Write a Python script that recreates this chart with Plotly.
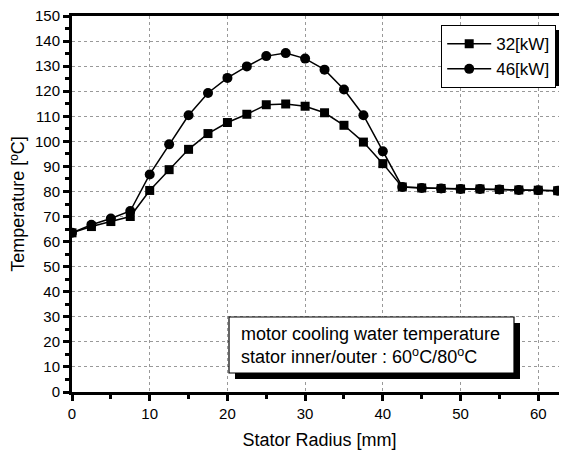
import plotly.graph_objects as go

radius = [0, 2.5, 5, 7.5, 10, 12.5, 15, 17.5, 20, 22.5, 25, 27.5, 30, 32.5, 35, 37.5, 40,
          42.5, 45, 47.5, 50, 52.5, 55, 57.5, 60, 62.5]
temp_32kw = [63.5, 66, 68, 70, 80.4, 88.7, 96.8, 103.1, 107.5, 110.8, 114.6, 114.9, 114.0, 111.4,
             106.4, 99.7, 91.1, 81.8, 81.4, 81.2, 81.0, 81.0, 80.8, 80.6, 80.5, 80.3]
temp_46kw = [63.5, 66.7, 69.2, 72.2, 86.8, 98.8, 110.4, 119.3, 125.3, 129.9, 134.0, 135.2, 133.0, 128.6,
             120.7, 110.4, 96.0, 81.8, 81.4, 81.2, 81.0, 81.0, 80.8, 80.6, 80.5, 80.3]
series_names = ["32[kW]", "46[kW]"]
x_ticks = [0, 10, 20, 30, 40, 50, 60]
y_ticks = list(range(0, 151, 10))

# the page body has an 8px margin, so the figure is drawn at (8, 8) in the window
OFF = 8
W, H = 567 - OFF, 450 - OFF
# plot area in window pixels: x 72..567, y 16..392
ml, mr, mt, mb = 72 - OFF, 0, 16 - OFF, 450 - 392
pw, ph = W - ml - mr, H - mt - mb
FONT = "Liberation Sans, Arial"

fig = go.Figure()
fig.add_trace(go.Scatter(x=radius, y=temp_32kw, name=series_names[0], mode="lines+markers",
                         line=dict(color="black", width=1.5),
                         marker=dict(symbol="square", size=9, color="black")))
fig.add_trace(go.Scatter(x=radius, y=temp_46kw, name=series_names[1], mode="lines+markers",
                         line=dict(color="black", width=1.5),
                         marker=dict(symbol="circle", size=10, color="black")))

def px_x(p):  # window pixel -> paper
    return (p - OFF - ml) / pw

def px_y(p):
    return (H - mb - (p - OFF)) / ph

# legend box (window pixels) and its shadow
lx0, lx1, ly0, ly1 = 441, 558, 25, 81
sh = 5
fig.add_shape(type="rect", xref="paper", yref="paper",
              x0=px_x(lx0 + sh), x1=px_x(lx1 + sh), y0=px_y(ly1 + sh), y1=px_y(ly0 + sh),
              fillcolor="black", line=dict(width=0), layer="above")
# annotation box with shadow
ax0, ax1, ay0, ay1 = 229, 514, 317, 373
sh2 = 6
fig.add_shape(type="rect", xref="paper", yref="paper",
              x0=px_x(ax0 + sh2), x1=px_x(ax1 + sh2), y0=px_y(ay1 + sh2), y1=px_y(ay0 + sh2),
              fillcolor="black", line=dict(width=0), layer="above")
fig.add_shape(type="rect", xref="paper", yref="paper",
              x0=px_x(ax0), x1=px_x(ax1), y0=px_y(ay1), y1=px_y(ay0),
              fillcolor="white", line=dict(color="black", width=1.2), layer="above")
fig.add_annotation(xref="paper", yref="paper", x=px_x(ax0 + 10), y=px_y((ay0 + ay1) / 2),
                   xanchor="left", yanchor="middle", align="left", showarrow=False,
                   text="motor cooling water temperature<br>stator inner/outer : 60<sup>o</sup>C/80<sup>o</sup>C",
                   font=dict(family=FONT, size=18, color="black"))

fig.update_layout(
    width=W, height=H, margin=dict(l=ml, r=mr, t=mt, b=mb, autoexpand=False),
    paper_bgcolor="white", plot_bgcolor="white",
    font=dict(family=FONT, size=15, color="black"),
    showlegend=True,
    legend=dict(x=px_x(lx0), y=px_y(ly0), xanchor="left", yanchor="top",
                bgcolor="white", bordercolor="black", borderwidth=1.2,
                font=dict(size=17), tracegroupgap=0, itemwidth=44),
)
fig.update_xaxes(range=[0, 63.7], tickvals=x_ticks, showline=True, linecolor="black", linewidth=3,
                 mirror=True, ticks="outside", ticklen=6, tickwidth=2.5, tickcolor="black",
                 minor=dict(dtick=5, ticks="outside", ticklen=4, tickwidth=2.5, tickcolor="black", showgrid=False),
                 showgrid=True, gridcolor="#999999", griddash="dot", gridwidth=1, zeroline=False,
                 automargin=False, ticklabeloverflow="allow",
                 title=dict(text="Stator Radius [mm]", font=dict(size=18), standoff=14))
fig.update_yaxes(range=[0, 150], tickvals=y_ticks, showline=True, linecolor="black", linewidth=3,
                 ticks="outside", ticklen=6, tickwidth=2.5, tickcolor="black",
                 minor=dict(dtick=5, ticks="outside", ticklen=4, tickwidth=2.5, tickcolor="black", showgrid=False),
                 showgrid=True, gridcolor="#999999", griddash="dot", gridwidth=1, zeroline=False,
                 automargin=False, ticklabeloverflow="allow",
                 title=dict(text="Temperature [ºC]", font=dict(size=18), standoff=10))

fig.write_html("out.html")
